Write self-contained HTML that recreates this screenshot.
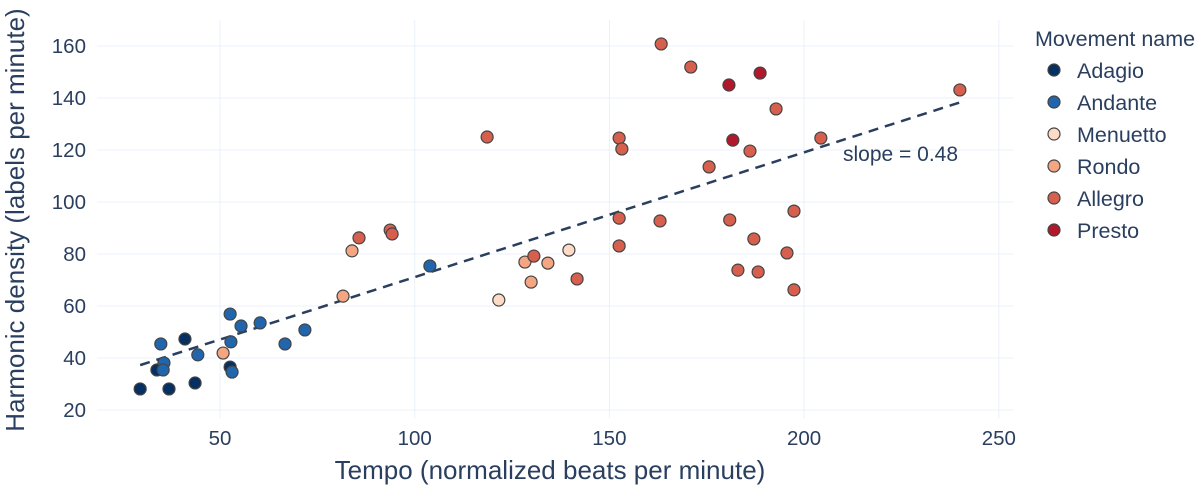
<!DOCTYPE html>
<html><head><meta charset="utf-8"><style>
body{margin:0;background:#fff;}
svg{display:block;font-family:"Liberation Sans",sans-serif;}
</style></head><body>
<svg id="chart" width="1200" height="487"></svg>
<script>
const groups = ["Adagio","Andante","Menuetto","Rondo","Allegro","Presto"];
const colors = ["#053061","#2166ac","#fddbc7","#f4a582","#d6604d","#b2182b"];
const adagioX = [29.5,36.9,43.6,41.0,33.8,52.6];
const adagioY = [28.1,28.1,30.4,47.3,35.4,36.5];
const andanteX = [34.8,35.6,35.4,44.3,52.6,55.4,52.8,53.1,60.3,66.7,71.8,103.9];
const andanteY = [45.4,38.1,35.4,41.2,56.9,52.3,46.2,34.6,53.5,45.4,50.8,75.4];
const menuettoX = [121.6,139.6];
const menuettoY = [62.3,81.5];
const rondoX = [50.8,81.6,83.9,128.3,129.9,134.2];
const rondoY = [41.9,63.8,81.2,76.9,69.2,76.5];
const allegroX = [85.7,93.7,94.2,130.6,141.7,118.6,152.5,153.2,152.5,152.5,163.3,163.0,170.9,192.8,175.6,186.1,180.9,187.1,183.0,188.2,195.6,197.4,197.4,204.3,240.0];
const allegroY = [86.2,89.2,87.7,79.2,70.4,125.0,124.6,120.4,93.8,83.1,160.8,92.7,151.9,135.8,113.5,119.6,93.1,85.8,73.8,73.1,80.4,96.5,66.2,124.6,143.1];
const prestoX = [180.7,188.7,181.7];
const prestoY = [145.0,149.6,123.8];
const xTicks = [50,100,150,200,250];
const yTicks = [20,40,60,80,100,120,140,160];
const slope = 0.48;
const intercept = 23.1;

const NS="http://www.w3.org/2000/svg";
const svg=document.getElementById('chart');
const sx=v=>25.3+v*3.894;
const sy=v=>462-v*2.6;
function mk(t,a,p){const e=document.createElementNS(NS,t);for(const k in a)e.setAttribute(k,a[k]);(p||svg).appendChild(e);return e;}
const tc="#2a3f5f";
for(const t of xTicks){
  const g=mk('line',{x1:sx(t),x2:sx(t),y1:20,y2:418,stroke:"#ebf0f8","stroke-width":1});
  
  
  const l=mk('text',{x:sx(t),y:445,"text-anchor":"middle","font-size":20.5,fill:tc});
  l.textContent=t;
  
  
}
for(const t of yTicks){
  const g=mk('line',{x1:97,x2:1013,y1:sy(t),y2:sy(t),stroke:"#ebf0f8","stroke-width":1});
  
  
  const l=mk('text',{x:86,y:sy(t)+7,"text-anchor":"end","font-size":20.5,fill:tc});
  l.textContent=t;
  
  
}
const xt=mk('text',{x:550,y:479,"text-anchor":"middle","font-size":26,fill:tc});
xt.textContent="Tempo (normalized beats per minute)";


const yt=mk('text',{x:0,y:0,"text-anchor":"middle","font-size":26,fill:tc,transform:"translate(24,220) rotate(-90)"});
yt.textContent="Harmonic density (labels per minute)";



const xsAll=[adagioX,andanteX,menuettoX,rondoX,allegroX,prestoX];
const ysAll=[adagioY,andanteY,menuettoY,rondoY,allegroY,prestoY];
const flat=[].concat(...xsAll);
const x0=Math.min(...flat),x1=Math.max(...flat);
const tl=mk('line',{x1:sx(x0),y1:sy(intercept+slope*x0),x2:sx(x1),y2:sy(intercept+slope*x1),stroke:"#2a3f5f","stroke-width":2.5,"stroke-dasharray":"10,7"});


const st=mk('text',{x:843,y:161,"font-size":21,fill:tc});
st.textContent="slope = "+slope.toFixed(2);



groups.forEach((g,i)=>{
  const xs=xsAll[i],ys=ysAll[i];
  for(let j=0;j<xs.length;j++){
    const c=mk('circle',{cx:sx(xs[j]),cy:sy(ys[j]),r:6,fill:colors[i],stroke:"#444","stroke-width":1.2});
    
    
  }
});

const lt=mk('text',{x:1035,y:46,"font-size":21.5,fill:tc});
lt.textContent="Movement name";


groups.forEach((g,i)=>{
  const y=70+i*32;
  const c=mk('circle',{cx:1054,cy:y,r:6,fill:colors[i],stroke:"#444","stroke-width":1.2});
  
  
  const t=mk('text',{x:1077,y:y+8,"font-size":21.5,fill:tc});
  t.textContent=g;
  
  
});
</script>
</body></html>
